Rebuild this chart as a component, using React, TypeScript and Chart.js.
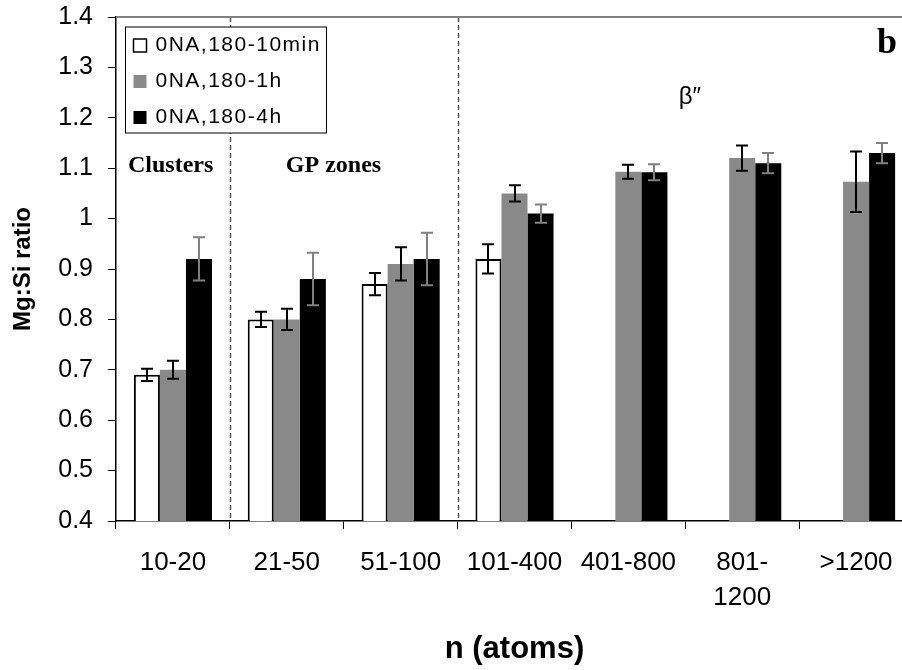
import React, { useEffect, useRef } from 'react';
import { Chart, registerables } from 'chart.js';

Chart.register(...registerables);

// ---------- data ----------
const categories: (string | string[])[] = ['10-20', '21-50', '51-100', '101-400', '401-800', ['801-', '1200'], '>1200'];
const seriesNames = ['0NA,180-10min', '0NA,180-1h', '0NA,180-4h'];
const values10min = [0.69, 0.80, 0.87, 0.92, null, null, null];
const errors10min = [0.012, 0.015, 0.022, 0.029, null, null, null];
const values1h = [0.70, 0.80, 0.91, 1.05, 1.093, 1.12, 1.073];
const errors1h = [0.018, 0.021, 0.033, 0.016, 0.014, 0.025, 0.06];
const values4h = [0.92, 0.88, 0.92, 1.01, 1.092, 1.11, 1.13];
const errors4h = [0.043, 0.052, 0.052, 0.018, 0.016, 0.02, 0.02];
const yMin = 0.4;
const yMax = 1.4;
const yStep = 0.1;
const yTitle = 'Mg:Si ratio';
const xTitle = 'n (atoms)';
const regionLabels = ['Clusters', 'GP zones', 'β″'];
const panelLabel = 'b';
// boundaries (between category indices) where dashed separators are drawn
const separatorsAt = [0.5, 2.5];

const SANS = "'Liberation Sans', Arial, sans-serif";
const SERIF = "'Liberation Serif', 'Times New Roman', serif";

const errorBarsPlugin = {
  id: 'errorBars',
  afterDatasetsDraw(chart: any) {
    const { ctx } = chart;
    const ys = chart.scales.y;
    chart.data.datasets.forEach((ds: any, di: number) => {
      const meta = chart.getDatasetMeta(di);
      meta.data.forEach((bar: any, i: number) => {
        const v = ds.data[i];
        const e = ds.errors[i];
        if (v == null || e == null) return;
        const top = ys.getPixelForValue(v + e);
        const bot = ys.getPixelForValue(v - e);
        const x = Math.round(bar.x);
        ctx.save();
        ctx.strokeStyle = ds.errorColor;
        ctx.lineWidth = 2;
        ctx.beginPath();
        ctx.moveTo(x, top);
        ctx.lineTo(x, bot);
        ctx.moveTo(x - 6, top);
        ctx.lineTo(x + 6, top);
        ctx.moveTo(x - 6, bot);
        ctx.lineTo(x + 6, bot);
        ctx.stroke();
        ctx.restore();
      });
    });
  },
};

const decorPlugin = {
  id: 'decor',
  beforeDatasetsDraw(chart: any) {
    const { ctx, chartArea } = chart;
    const xs = chart.scales.x;
    ctx.save();
    ctx.strokeStyle = '#555';
    ctx.lineWidth = 1.5;
    ctx.setLineDash([5, 3]);
    separatorsAt.forEach((b) => {
      const x = Math.round(xs.getPixelForValue(b)) + 0.5;
      ctx.beginPath();
      ctx.moveTo(x, chartArea.top);
      ctx.lineTo(x, chartArea.bottom);
      ctx.stroke();
    });
    ctx.restore();
  },
  afterDraw(chart: any) {
    const { ctx, chartArea } = chart;
    const xs = chart.scales.x;
    const ys = chart.scales.y;
    ctx.save();
    // top frame line
    ctx.strokeStyle = '#808080';
    ctx.lineWidth = 2;
    ctx.beginPath();
    ctx.moveTo(chartArea.left, chartArea.top);
    ctx.lineTo(chartArea.right, chartArea.top);
    ctx.stroke();

    // region labels
    ctx.fillStyle = '#000';
    ctx.textBaseline = 'alphabetic';
    ctx.textAlign = 'center';
    ctx.font = `bold 24px ${SERIF}`;
    ctx.fillText(regionLabels[0], xs.getPixelForValue(-0.02), ys.getPixelForValue(1.0925));
    ctx.fillText(regionLabels[1], xs.getPixelForValue(1.41), ys.getPixelForValue(1.0925));
    ctx.font = `24px ${SANS}`;
    ctx.fillText(regionLabels[2], xs.getPixelForValue(4.54), ys.getPixelForValue(1.2265));
    ctx.font = `bold 36px ${SERIF}`;
    ctx.textAlign = 'right';
    ctx.fillText(panelLabel, 897, ys.getPixelForValue(1.3285));

    // legend box
    const bx = chartArea.left + 9.5;
    const by = chartArea.top + 10;
    const bw = 201;
    const bh = 106;
    ctx.fillStyle = '#fff';
    ctx.fillRect(bx, by, bw, bh);
    ctx.strokeStyle = '#000';
    ctx.lineWidth = 1;
    ctx.strokeRect(bx, by, bw, bh);
    ctx.font = `21px ${SANS}`;
    ctx.textAlign = 'left';
    ctx.textBaseline = 'middle';
    try { (ctx as any).letterSpacing = '1.5px'; } catch (e) { /* ignore */ }
    chart.data.datasets.forEach((ds: any, i: number) => {
      const cy = by + 18.5 + i * 36;
      ctx.fillStyle = ds.backgroundColor;
      ctx.fillRect(bx + 8, cy - 6.5, 13, 13);
      if (ds.borderWidth) {
        ctx.strokeStyle = '#000';
        ctx.lineWidth = 1.5;
        ctx.strokeRect(bx + 8, cy - 6.5, 13, 13);
      }
      ctx.fillStyle = '#000';
      ctx.fillText(ds.label, bx + 30, cy);
    });
    ctx.restore();
  },
};

export default function App() {
  const canvasRef = useRef<HTMLCanvasElement | null>(null);

  useEffect(() => {
    document.documentElement.style.overflow = 'hidden';
    document.body.style.overflow = 'hidden';
    const canvas = canvasRef.current;
    if (!canvas) return;
    const chart = new Chart(canvas, {
      type: 'bar',
      data: {
        labels: categories as any,
        datasets: [
          {
            label: seriesNames[0],
            data: values10min as any,
            errors: errors10min,
            errorColor: '#000',
            backgroundColor: '#ffffff',
            borderColor: '#000000',
            borderWidth: 2,
          } as any,
          {
            label: seriesNames[1],
            data: values1h as any,
            errors: errors1h,
            errorColor: '#000',
            backgroundColor: '#898989',
            borderWidth: 0,
          } as any,
          {
            label: seriesNames[2],
            data: values4h as any,
            errors: errors4h,
            errorColor: '#808080',
            backgroundColor: '#000000',
            borderWidth: 0,
          } as any,
        ],
      },
      options: {
        responsive: false,
        animation: false,
        devicePixelRatio: 1,
        layout: { padding: { top: 17, right: 7, left: 0, bottom: 0 } },
        datasets: {
          bar: { categoryPercentage: 0.686, barPercentage: 1.0 },
        },
        plugins: {
          legend: { display: false },
          tooltip: { enabled: false },
          title: { display: false },
        },
        scales: {
          x: {
            grid: { drawOnChartArea: false, drawTicks: true, tickLength: 8, color: '#000', offset: true },
            border: { color: '#000', width: 1.5 },
            ticks: {
              color: '#000',
              padding: 16,
              maxRotation: 0,
              autoSkip: false,
              font: { family: SANS, size: 26, lineHeight: '35px' as any },
            },
            title: {
              display: true,
              text: xTitle,
              color: '#000',
              font: { family: SANS, size: 31, weight: 'bold' },
              padding: { top: 0, bottom: 2.4 },
            },
            afterFit: (scale: any) => {
              scale.height = 149;
              scale.paddingLeft = 0;
              scale.paddingRight = 0;
            },
          },
          y: {
            min: yMin,
            max: yMax,
            grid: { drawOnChartArea: false, drawTicks: true, tickLength: 8, color: '#000' },
            border: { color: '#000', width: 1.5 },
            ticks: {
              stepSize: yStep,
              color: '#000',
              padding: 15,
              font: { family: SANS, size: 25 },
              callback: (v: any) => String(Math.round(Number(v) * 10) / 10),
            },
            title: {
              display: true,
              text: yTitle,
              color: '#000',
              font: { family: SANS, size: 24, weight: 'bold' },
              padding: { top: 9, bottom: 0 },
            },
            afterFit: (scale: any) => {
              scale.width = 116;
              scale.paddingTop = 0;
              scale.paddingBottom = 0;
            },
          },
        },
      },
      plugins: [errorBarsPlugin, decorPlugin],
    } as any);
    return () => chart.destroy();
  }, []);

  return (
    <div style={{ position: 'fixed', left: 0, top: 0, width: 920, height: 670, background: '#fff' }}>
      <canvas ref={canvasRef} width={920} height={670} style={{ display: 'block', width: 920, height: 670 }} />
    </div>
  );
}
